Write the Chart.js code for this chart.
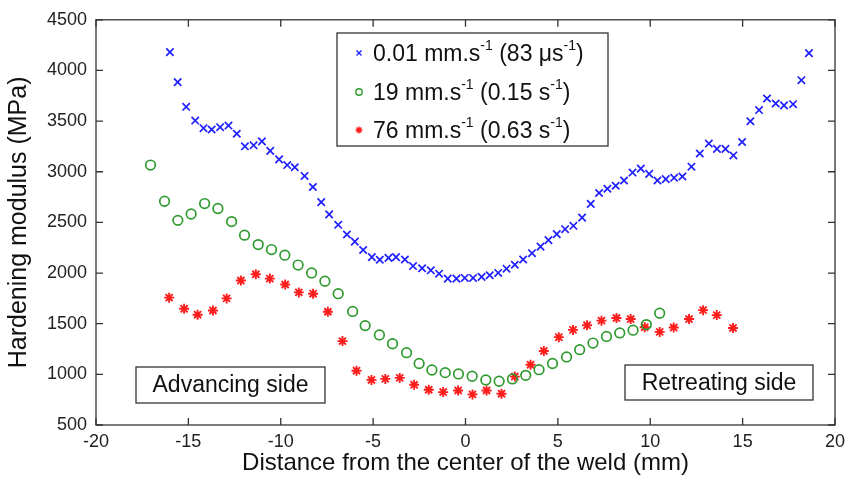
<!DOCTYPE html>
<html>
<head>
<meta charset="utf-8">
<script src="https://cdn.jsdelivr.net/npm/chart.js@4.4.0/dist/chart.umd.min.js"></script>
<style>
  html, body { margin: 0; padding: 0; background: #fff; }
  #wrap { width: 853px; height: 478px; }
</style>
</head>
<body>
<div id="wrap"><canvas id="chart" width="853" height="478"></canvas></div>
<script>
// values
var slowX = [-16.0,-15.58,-15.12,-14.63,-14.18,-13.74,-13.28,-12.83,-12.38,-11.94,-11.47,-11.02,-10.57,-10.09,-9.65,-9.24,-8.71,-8.26,-7.81,-7.38,-6.89,-6.42,-5.99,-5.54,-5.07,-4.64,-4.17,-3.76,-3.28,-2.84,-2.35,-1.88,-1.43,-0.96,-0.49,-0.04,0.41,0.87,1.31,1.77,2.22,2.67,3.12,3.6,4.06,4.49,4.94,5.39,5.84,6.31,6.78,7.23,7.68,8.13,8.58,9.04,9.49,9.94,10.39,10.84,11.29,11.74,12.23,12.68,13.17,13.61,14.07,14.5,14.97,15.42,15.89,16.32,16.79,17.24,17.73,18.18,18.59];
var slowY = [4181,3885,3641,3505,3430,3417,3440,3456,3375,3251,3261,3300,3206,3122,3066,3044,2959,2849,2700,2579,2476,2381,2310,2228,2157,2131,2150,2157,2134,2069,2047,2027,1994,1945,1945,1952,1952,1962,1978,2001,2043,2082,2134,2196,2261,2325,2384,2433,2466,2547,2683,2790,2832,2862,2914,2992,3031,2979,2914,2927,2940,2953,3050,3180,3278,3226,3226,3161,3294,3499,3609,3723,3674,3655,3667,3904,4171];

var midX = [-17.05,-16.29,-15.57,-14.85,-14.12,-13.4,-12.66,-11.96,-11.22,-10.5,-9.78,-9.06,-8.33,-7.61,-6.89,-6.11,-5.43,-4.66,-3.95,-3.19,-2.51,-1.82,-1.1,-0.38,0.36,1.1,1.82,2.54,3.26,3.98,4.71,5.47,6.18,6.9,7.63,8.35,9.07,9.79,10.51];
var midY = [3066,2709,2520,2583,2686,2637,2508,2374,2281,2232,2176,2079,2001,1920,1796,1621,1481,1389,1302,1214,1107,1043,1017,1004,981,945,932,955,990,1046,1107,1172,1244,1309,1374,1409,1436,1491,1604];

var fastX = [-16.04,-15.23,-14.5,-13.67,-12.93,-12.16,-11.35,-10.59,-9.76,-9.02,-8.25,-7.45,-6.66,-5.9,-5.09,-4.34,-3.56,-2.78,-1.99,-1.21,-0.4,0.38,1.14,1.95,2.67,3.52,4.24,5.05,5.82,6.58,7.36,8.17,8.94,9.7,10.51,11.27,12.1,12.86,13.6,14.48];
var fastY = [1757,1647,1589,1631,1750,1926,1988,1945,1887,1809,1796,1618,1328,1036,945,955,965,897,848,825,841,802,841,809,978,1095,1231,1367,1439,1484,1530,1556,1546,1465,1419,1462,1546,1634,1585,1458];

var xTicks = [-20,-15,-10,-5,0,5,10,15,20];
var yTicks = [500,1000,1500,2000,2500,3000,3500,4000,4500];

// legend labels, [text, superscript?]
var seriesLabels = [
    [['0.01 mm.s', false], ['-1', true], [' (83 \u03bcs', false], ['-1', true], [')', false]],
    [['19 mm.s', false], ['-1', true], [' (0.15 s', false], ['-1', true], [')', false]],
    [['76 mm.s', false], ['-1', true], [' (0.63 s', false], ['-1', true], [')', false]]
];
var sideLabels = ['Advancing side', 'Retreating side'];

var FONT = "'Liberation Sans', Arial, sans-serif";
var BLUE = '#1f1fff', GREEN = '#2f9a2f', RED = '#ff1c1c';

function toPoints(xs, ys) {
    return xs.map(function(x, i) { return { x: x, y: ys[i] }; });
}

function drawMarker(ctx, style, color, x, y) {
    ctx.save();
    ctx.strokeStyle = color;
    ctx.lineWidth = 1.4;
    ctx.beginPath();
    if (style === 'crossRot') {
        ctx.moveTo(x - 2.5, y - 2.5); ctx.lineTo(x + 2.5, y + 2.5);
        ctx.moveTo(x - 2.5, y + 2.5); ctx.lineTo(x + 2.5, y - 2.5);
    } else if (style === 'circle') {
        ctx.arc(x, y, 3.2, 0, Math.PI * 2);
    } else {
        for (var a = 0; a < 4; a++) {
            var t = a * Math.PI / 4;
            ctx.moveTo(x - 3.5 * Math.cos(t), y - 3.5 * Math.sin(t));
            ctx.lineTo(x + 3.5 * Math.cos(t), y + 3.5 * Math.sin(t));
        }
    }
    ctx.stroke();
    ctx.restore();
}

function drawRich(ctx, parts, x, y, size) {
    parts.forEach(function(p) {
        if (p[1]) {
            ctx.font = Math.round(size * 0.6) + 'px ' + FONT;
            ctx.fillText(p[0], x, y - size * 0.4);
        } else {
            ctx.font = size + 'px ' + FONT;
            ctx.fillText(p[0], x, y);
        }
        x += ctx.measureText(p[0]).width;
    });
}

// box, inward ticks, legend and side labels (MATLAB style)
var framePlugin = {
    id: 'frame',
    afterDatasetsDraw: function(chart) {
        var ctx = chart.ctx, a = chart.chartArea;
        var xs = chart.scales.x, ys = chart.scales.y;
        ctx.save();
        ctx.strokeStyle = '#333';
        ctx.lineWidth = 1.3;
        ctx.strokeRect(a.left, a.top, a.right - a.left, a.bottom - a.top);
        ctx.beginPath();
        xTicks.forEach(function(v) {
            var px = xs.getPixelForValue(v);
            ctx.moveTo(px, a.bottom); ctx.lineTo(px, a.bottom - 7);
            ctx.moveTo(px, a.top); ctx.lineTo(px, a.top + 7);
        });
        yTicks.forEach(function(v) {
            var py = ys.getPixelForValue(v);
            ctx.moveTo(a.left, py); ctx.lineTo(a.left + 7, py);
            ctx.moveTo(a.right, py); ctx.lineTo(a.right - 7, py);
        });
        ctx.stroke();

        // legend
        var lx = 337, ly = 33, lw = 271, lh = 113;
        ctx.fillStyle = '#fff';
        ctx.fillRect(lx, ly, lw, lh);
        ctx.strokeStyle = '#333';
        ctx.lineWidth = 1.3;
        ctx.strokeRect(lx, ly, lw, lh);
        var styles = ['crossRot', 'circle', 'star'];
        var colors = [BLUE, GREEN, RED];
        var rows = [53, 92, 130];
        ctx.textBaseline = 'middle';
        ctx.textAlign = 'left';
        seriesLabels.forEach(function(parts, i) {
            drawMarker(ctx, styles[i], colors[i], 359, rows[i]);
            ctx.fillStyle = '#111';
            drawRich(ctx, parts, 373, rows[i] + 2, 23);
        });

        // side labels
        var boxes = [[136, 367, 189, 36], [625, 365, 188, 35]];
        sideLabels.forEach(function(txt, i) {
            var b = boxes[i];
            ctx.fillStyle = '#fff';
            ctx.fillRect(b[0], b[1], b[2], b[3]);
            ctx.strokeRect(b[0], b[1], b[2], b[3]);
            ctx.fillStyle = '#111';
            ctx.font = '23px ' + FONT;
            ctx.textAlign = 'center';
            ctx.fillText(txt, b[0] + b[2] / 2, b[1] + b[3] / 2 + 1);
        });
        ctx.restore();
    }
};

var ctx = document.getElementById('chart').getContext('2d');
var chart = new Chart(ctx, {
    type: 'scatter',
    data: {
        datasets: [
            { label: '0.01', data: toPoints(slowX, slowY), pointStyle: 'crossRot',
              radius: 5.2, borderColor: BLUE, backgroundColor: BLUE, borderWidth: 1.7 },
            { label: '19', data: toPoints(midX, midY), pointStyle: 'circle',
              radius: 4.8, borderColor: GREEN, backgroundColor: 'rgba(0,0,0,0)', borderWidth: 1.7 },
            { label: '76', data: toPoints(fastX, fastY), pointStyle: 'star',
              radius: 5, borderColor: RED, backgroundColor: RED, borderWidth: 1.9 }
        ]
    },
    options: {
        responsive: false,
        animation: false,
        layout: { padding: { top: 15, right: 18, left: 0, bottom: 0 } },
        plugins: { legend: { display: false }, tooltip: { enabled: false } },
        scales: {
            x: {
                type: 'linear', min: -20, max: 20,
                afterBuildTicks: function(s) { s.ticks = xTicks.map(function(v) { return { value: v }; }); },
                afterFit: function(s) { s.height = 53; },
                grid: { drawOnChartArea: false, drawTicks: false },
                border: { display: false },
                ticks: { padding: 6, color: '#222', font: { family: FONT, size: 18 },
                         callback: function(v) { return String(v); } },
                title: { display: true, text: 'Distance from the center of the weld (mm)', color: '#111',
                         padding: { top: 0, bottom: 0 }, font: { family: FONT, size: 24 } }
            },
            y: {
                type: 'linear', min: 500, max: 4500,
                afterBuildTicks: function(s) { s.ticks = yTicks.map(function(v) { return { value: v }; }); },
                afterFit: function(s) { s.width = 96; },
                grid: { drawOnChartArea: false, drawTicks: false },
                border: { display: false },
                ticks: { padding: 9, color: '#222', font: { family: FONT, size: 18 },
                         callback: function(v) { return String(v); } },
                title: { display: true, text: 'Hardening modulus (MPa)', color: '#111',
                         padding: { top: 4, bottom: 0 }, font: { family: FONT, size: 25 } }
            }
        }
    },
    plugins: [framePlugin]
});
</script>
</body>
</html>
